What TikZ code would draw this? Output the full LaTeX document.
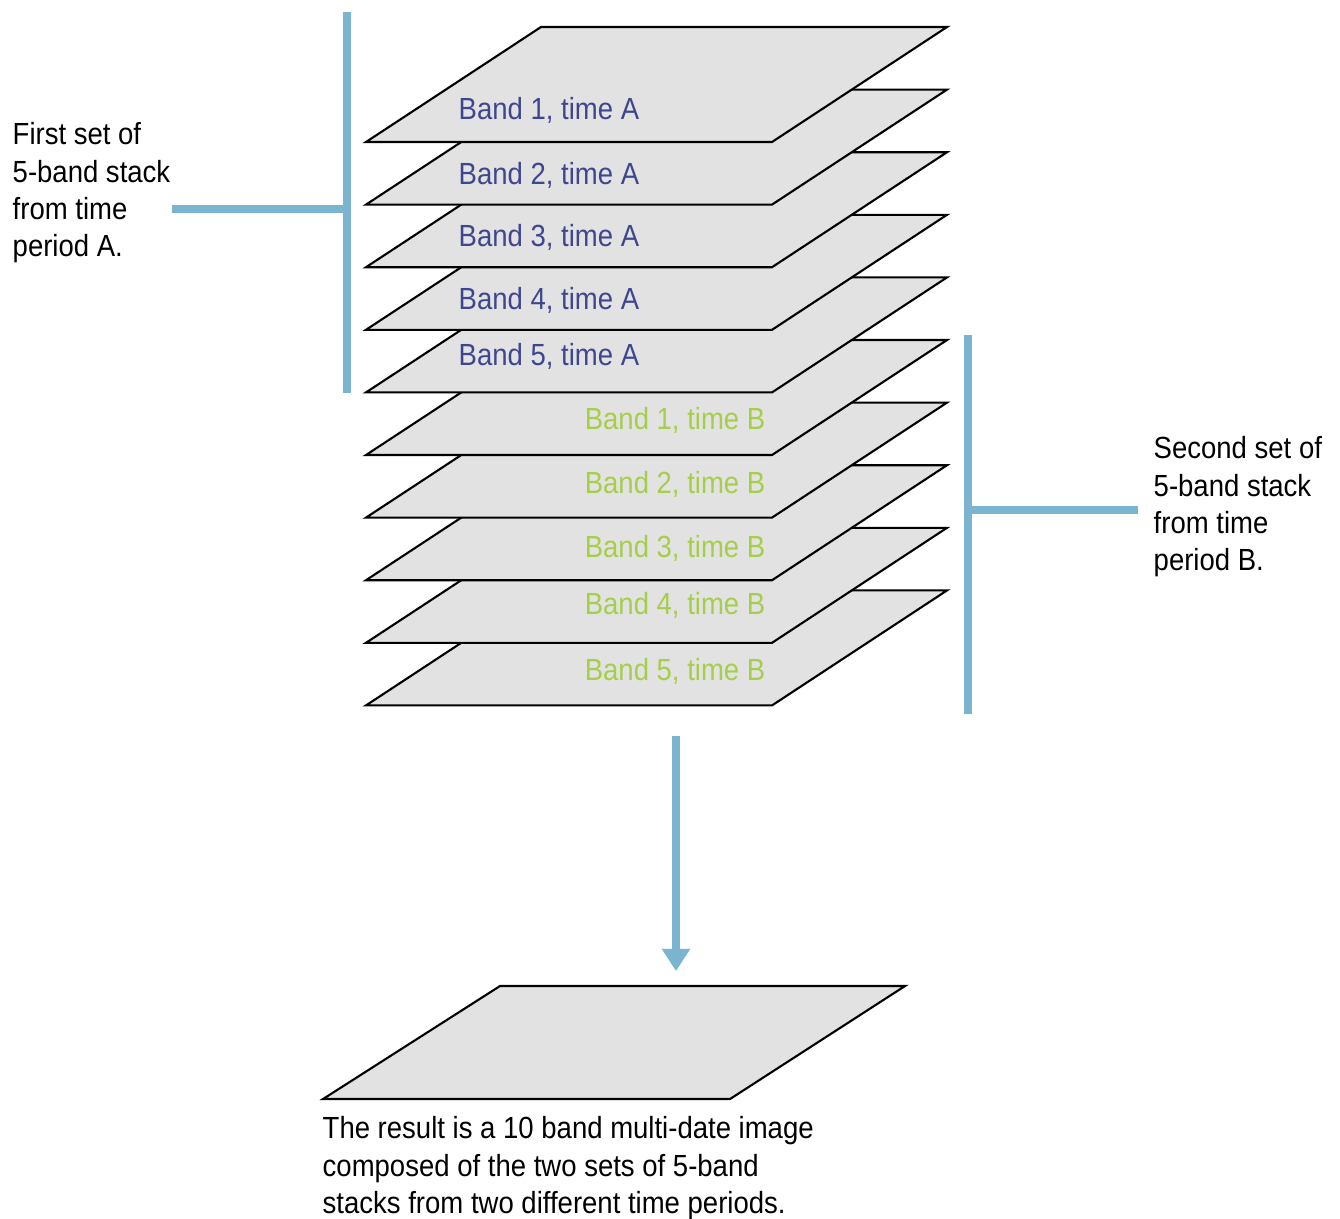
\documentclass[tikz,border=0pt]{standalone}
\usepackage{fontspec}
\setmainfont{Liberation Sans}[FakeStretch=0.9]
\usetikzlibrary{arrows.meta}

\definecolor{barblue}{RGB}{122,180,206}
\definecolor{sheetgray}{RGB}{226,226,226}
\definecolor{timeA}{RGB}{64,70,142}
\definecolor{timeB}{RGB}{166,206,72}

\tikzset{
  sheet/.style={draw=black, fill=sheetgray, line width=0.6pt},
  bracket/.style={draw=barblue, line width=2.3pt},
  labA/.style={text=timeA, anchor=west, inner sep=0pt},
  labB/.style={text=timeB, anchor=east, inner sep=0pt},
  note/.style={align=left, inner sep=0pt, anchor=north west}
}

\begin{document}
\begin{tikzpicture}[font=\fontsize{8.7}{10.6}\selectfont]

	\useasboundingbox (0,0) rectangle (13.40,-12.18);

	% ten band sheets, lowest one first
	\foreach \i in {9,8,...,0}
		\draw[sheet, yshift=-\i*0.626cm] (3.66,-1.42) -- (7.72,-1.42) -- (9.47,-0.27) -- (5.41,-0.27) -- cycle;

	\foreach \i/\y in {1/1.10, 2/1.75, 3/2.37, 4/3.00, 5/3.56}
		\node[labA] (a\i) at (4.58,-\y) {Band \i, time A};
	\foreach \i/\y in {1/4.20, 2/4.84, 3/5.48, 4/6.05, 5/6.71}
		\node[labB] (b\i) at (7.66,-\y) {Band \i, time B};

	\node[note] (setA) at (0.12,-1.22) {First set of\\5-band stack\\from time\\period A.};
	\node[note] (setB) at (11.53,-4.36) {Second set of\\5-band stack\\from time\\period B.};

	% brackets
	\coordinate (aTop) at (3.47,-0.12);
	\coordinate (aBot) at (3.47,-3.93);
	\coordinate (aTick) at (1.72,-2.09);
	\draw[bracket] (aTop) -- (aBot);
	\draw[bracket] (aTick) -- (aTick -| aTop);

	\coordinate (bTop) at (9.68,-3.35);
	\coordinate (bBot) at (9.68,-7.14);
	\coordinate (bTick) at (11.38,-5.10);
	\draw[bracket] (bTop) -- (bBot);
	\draw[bracket] (bTick) -- (bTick -| bTop);

	% result
	\coordinate (stackEnd) at (6.76,-7.36);
	\coordinate (resTop) at (6.76,-9.71);
	\draw[bracket, -{Triangle[width=7.7pt, length=6.3pt]}] (stackEnd) -- (resTop);

	\draw[sheet] (3.23,-10.99) -- (7.30,-10.99) -- (9.05,-9.86) -- (5.00,-9.86) -- cycle;
	\node[note] (result) at (3.22,-11.16) {The result is a 10 band multi-date image\\composed of the two sets of 5-band\\stacks from two different time periods.};

\end{tikzpicture}
\end{document}
